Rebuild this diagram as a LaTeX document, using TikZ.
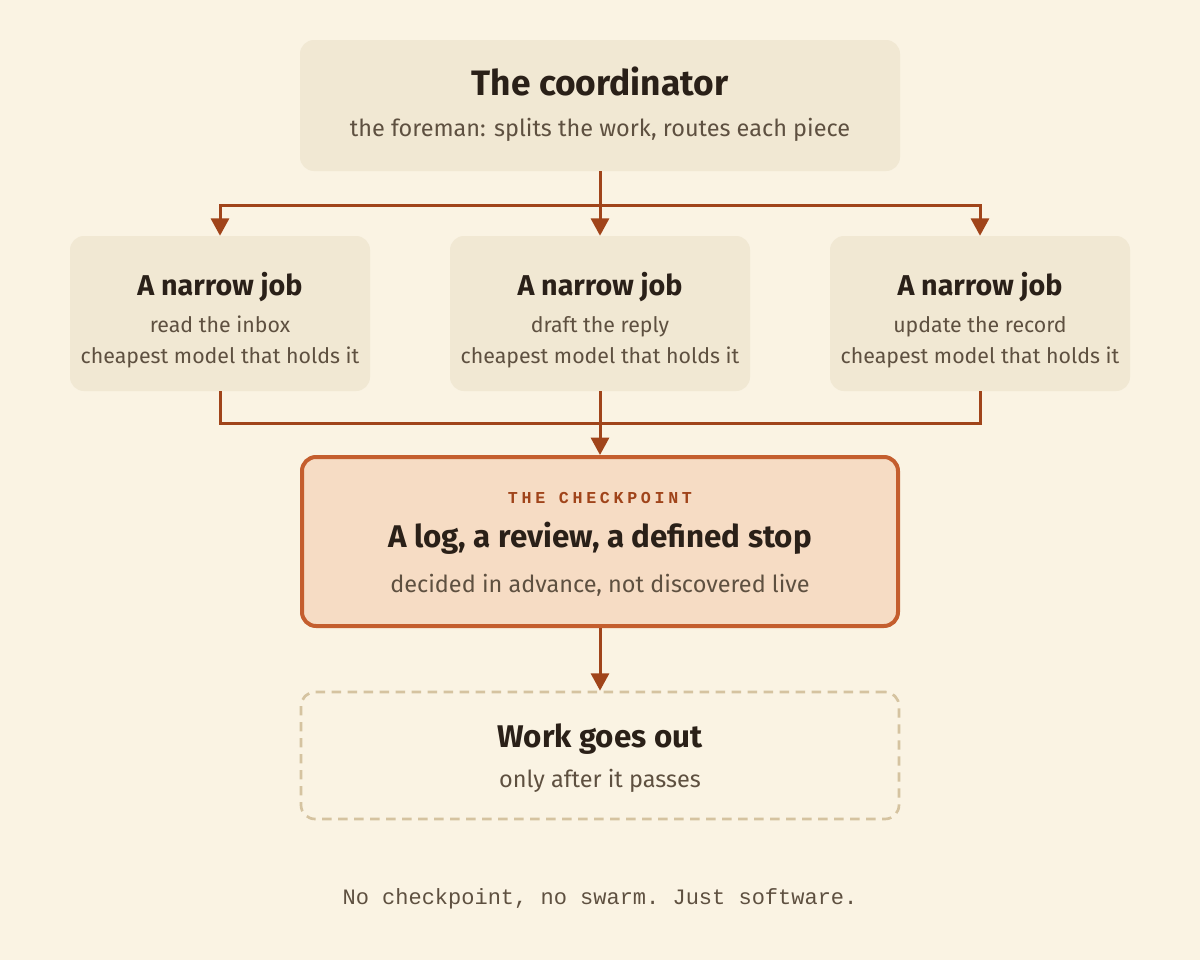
\documentclass[tikz,border=0pt]{standalone}
\usepackage{fontspec}
\setmainfont{Fira Sans}
\setmonofont{Liberation Mono}
\usetikzlibrary{arrows.meta}

\definecolor{paper}{HTML}{FAF3E3}
\definecolor{boxfill}{HTML}{F1E8D3}
\definecolor{ink}{HTML}{2A2018}
\definecolor{subink}{HTML}{5E5040}
\definecolor{rust}{HTML}{A0441A}
\definecolor{checkline}{HTML}{C45E2E}
\definecolor{checkfill}{HTML}{F6DCC4}
\definecolor{dashline}{HTML}{D5C3A0}

\begin{document}
\begin{tikzpicture}[x=0.75pt,y=-0.75pt,
    box/.style={rectangle, rounded corners=10.5pt, fill=boxfill, inner sep=0pt},
    checkbox/.style={rectangle, rounded corners=10.5pt, fill=checkfill, draw=checkline, line width=3pt, inner sep=0pt},
    outbox/.style={rectangle, rounded corners=10.5pt, draw=dashline, line width=2pt, dash pattern=on 7pt off 5pt, inner sep=0pt},
    head/.style={anchor=base, inner sep=0pt, text=ink, font=\bfseries\fontsize{26.5}{30}\selectfont},
    midhead/.style={anchor=base, inner sep=0pt, text=ink, font=\bfseries\fontsize{23.5}{27}\selectfont},
    jobhead/.style={anchor=base, inner sep=0pt, text=ink, font=\bfseries\fontsize{21.5}{25}\selectfont},
    sub/.style={anchor=base, inner sep=0pt, text=subink, font=\fontsize{17.6}{21}\selectfont},
    jobsub/.style={anchor=base, inner sep=0pt, text=subink, font=\fontsize{16}{19}\selectfont},
    flow/.style={draw=rust, line width=2.25pt},
    tip/.style={-{Triangle[length=13pt,width=13.5pt]}}]

  \useasboundingbox[fill=paper] (0,0) rectangle (1200,960);

  \node[box, minimum width=450pt, minimum height=98.25pt] (coord) at (600,105.5) {};
  \node[head] (coordT) at (600,95) {The coordinator};
  \node[sub] (coordS) at (600,136) {the foreman: splits the work, routes each piece};

  \node[box, minimum width=225pt, minimum height=116.25pt] (job1) at (220,313.5) {};
  \node[box, minimum width=225pt, minimum height=116.25pt] (job2) at (600,313.5) {};
  \node[box, minimum width=225pt, minimum height=116.25pt] (job3) at (980,313.5) {};
  \node[jobhead] (job1T) at (220,295) {A narrow job};
  \node[jobhead] (job2T) at (600,295) {A narrow job};
  \node[jobhead] (job3T) at (980,295) {A narrow job};
  \node[jobsub] (job1A) at (220,332) {read the inbox};
  \node[jobsub] (job2A) at (600,332) {draft the reply};
  \node[jobsub] (job3A) at (980,332) {update the record};
  \node[jobsub] (job1B) at (220,363) {cheapest model that holds it};
  \node[jobsub] (job2B) at (600,363) {cheapest model that holds it};
  \node[jobsub] (job3B) at (980,363) {cheapest model that holds it};

  \node[checkbox, minimum width=447pt, minimum height=126.75pt] (check) at (600,541.5) {};
  \node[anchor=base, inner sep=0pt, text=rust, font=\ttfamily\bfseries\addfontfeatures{LetterSpace=22}\fontsize{12.5}{14}\selectfont] (checkL) at (600,503) {THE CHECKPOINT};
  \node[midhead] (checkT) at (600,547) {A log, a review, a defined stop};
  \node[sub] (checkS) at (600,592) {decided in advance, not discovered live};

  \node[outbox, minimum width=448.5pt, minimum height=95.25pt] (out) at (600,755.5) {};
  \node[midhead] (outT) at (600,747) {Work goes out};
  \node[sub] (outS) at (600,787) {only after it passes};

  \node[anchor=base, inner sep=0pt, text=subink, font=\ttfamily\fontsize{16.5}{20}\selectfont] (foot) at (600,904) {No checkpoint, no swarm. Just software.};

  \coordinate (split) at (600,205);
  \coordinate (merge) at (600,423);
  \draw[flow] (coord.south) -- (split);
  \draw[flow, tip] (split) -| (job1.north);
  \draw[flow, tip] (split) -| (job3.north);
  \draw[flow, tip] (split) -- (job2.north);
  \draw[flow] (job1.south) |- (merge);
  \draw[flow] (job3.south) |- (merge);
  \draw[flow, tip] (job2.south) -- (check.north);
  \draw[flow, tip] (check.south) -- (out.north);
\end{tikzpicture}
\end{document}
